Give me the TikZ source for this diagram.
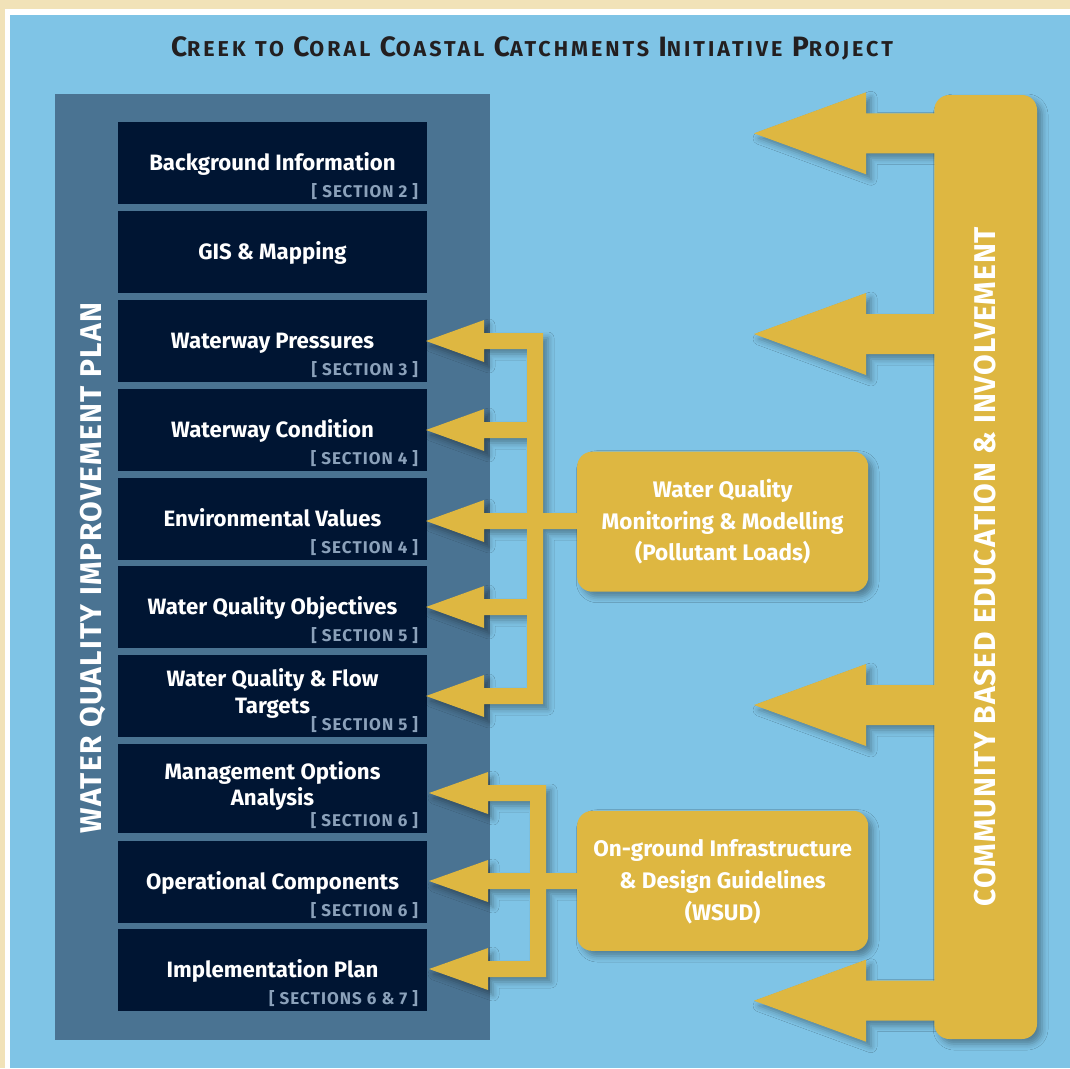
\documentclass[tikz,border=0pt]{standalone}
\usepackage{fontspec}
\setmainfont{Fira Sans}
\usetikzlibrary{shadows.blur}
\definecolor{beige}{HTML}{F1E2B8}
\definecolor{skyblue}{HTML}{7FC4E6}
\definecolor{slate}{HTML}{4A7392}
\definecolor{navy}{HTML}{001533}
\definecolor{gold}{HTML}{DEB741}
\definecolor{seclabel}{HTML}{8BA1BA}
\definecolor{titledark}{HTML}{231F20}
\newcommand{\fsc}[2]{{\fontsize{28}{30}\selectfont\bfseries\addfontfeatures{LetterSpace=9}#1}{\fontsize{21.5}{24}\selectfont\bfseries\addfontfeatures{LetterSpace=14}#2}}
\newcommand{\wsp}{\hspace{9.5pt}}
\tikzset{
  navybox/.style={fill=navy, inner sep=0pt, minimum width=309pt, minimum height=82pt},
  boxtitle/.style={text=white, font={\fontsize{22.2}{26}\selectfont\bfseries}, anchor=base, inner sep=0pt},
  seclbl/.style={text=seclabel, font={\fontsize{17}{20}\selectfont\bfseries\addfontfeatures{LetterSpace=6}}, anchor=base east, inner sep=0pt},
  goldbox/.style={fill=gold, rounded corners=15pt, inner sep=0pt, minimum width=291pt, minimum height=140pt},
  goldtext/.style={text=white, font={\fontsize{22.5}{28}\selectfont\bfseries}, anchor=base, inner sep=0pt},
  vtext/.style={text=white, font={\fontsize{30}{34}\selectfont\bfseries\addfontfeatures{LetterSpace=#1}}, anchor=base, rotate=90, inner sep=0pt},
  gshadow/.style={blur shadow={shadow xshift=5pt, shadow yshift=-5pt, shadow blur radius=6pt, shadow opacity=35}},
}
\begin{document}
\begin{tikzpicture}[x=1pt, y=-1pt]
\useasboundingbox (0,0) rectangle (1070,1068);
% frame and background
\fill[beige] (0,0) rectangle (1070,1068);
\fill[white] (5,9) rectangle (1070,1068);
\fill[skyblue] (10,14.5) rectangle (1070,1068);
% title
\node[anchor=base, inner sep=0pt, text=titledark, font={\fontsize{21.5}{24}\selectfont}] (title) at (532,56.7)
  {\fsc{C}{REEK}\wsp\fsc{}{TO}\wsp\fsc{C}{ORAL}\wsp\fsc{C}{OASTAL}\wsp\fsc{C}{ATCHMENTS}\wsp\fsc{I}{NITIATIVE}\wsp\fsc{P}{ROJECT}};
% left panel
\fill[slate] (55,94) rectangle (490,1040);
\node[vtext=4.2] (wqip) at (101,568) {WATER QUALITY IMPROVEMENT PLAN};
% navy boxes
\node[navybox] (b1) at (272.5,163) {};
\node[navybox] (b2) at (272.5,252) {};
\node[navybox] (b3) at (272.5,341) {};
\node[navybox] (b4) at (272.5,430) {};
\node[navybox] (b5) at (272.5,518.7) {};
\node[navybox] (b6) at (272.5,607) {};
\node[navybox] (b7) at (272.5,696) {};
\node[navybox, minimum height=88.7pt] (b8) at (272.5,788.4) {};
\node[navybox] (b9) at (272.5,882) {};
\node[navybox] (b10) at (272.5,970) {};
% box titles
\node[boxtitle] (t1) at ([yshift=-7.8pt]b1.center) {Background Information};
\node[boxtitle] (t2) at ([yshift=-7.8pt]b2.center) {GIS \& Mapping};
\node[boxtitle] (t3) at ([yshift=-7.8pt]b3.center) {Waterway Pressures};
\node[boxtitle] (t4) at ([yshift=-7.8pt]b4.center) {Waterway Condition};
\node[boxtitle] (t5) at ([yshift=-7.8pt]b5.center) {Environmental Values};
\node[boxtitle] (t6) at ([yshift=-7.8pt]b6.center) {Water Quality Objectives};
\node[boxtitle] (t7a) at ([yshift=9.3pt]b7.center) {Water Quality \& Flow};
\node[boxtitle] (t7b) at ([yshift=-17.3pt]b7.center) {Targets};
\node[boxtitle] (t8a) at ([yshift=9.1pt]b8.center) {Management Options};
\node[boxtitle] (t8b) at ([yshift=-17.3pt]b8.center) {Analysis};
\node[boxtitle] (t9) at ([yshift=-7.8pt]b9.center) {Operational Components};
\node[boxtitle] (t10) at ([yshift=-7.8pt]b10.center) {Implementation Plan};
% section labels
\node[seclbl] (s1) at ([xshift=-9pt,yshift=6.3pt]b1.south east) {[ SECTION 2 ]};
\node[seclbl] (s3) at ([xshift=-9pt,yshift=6.3pt]b3.south east) {[ SECTION 3 ]};
\node[seclbl] (s4) at ([xshift=-9pt,yshift=6.3pt]b4.south east) {[ SECTION 4 ]};
\node[seclbl] (s5) at ([xshift=-9pt,yshift=6.3pt]b5.south east) {[ SECTION 4 ]};
\node[seclbl] (s6) at ([xshift=-9pt,yshift=6.3pt]b6.south east) {[ SECTION 5 ]};
\node[seclbl] (s7) at ([xshift=-9pt,yshift=6.3pt]b7.south east) {[ SECTION 5 ]};
\node[seclbl] (s8) at ([xshift=-9pt,yshift=6.3pt]b8.south east) {[ SECTION 6 ]};
\node[seclbl] (s9) at ([xshift=-9pt,yshift=6.3pt]b9.south east) {[ SECTION 6 ]};
\node[seclbl] (s10) at ([xshift=-9pt,yshift=6.3pt]b10.south east) {[ SECTIONS 6 \& 7 ]};
% ---- gold shapes: shadows first ----
\def\upperconn{(426,341) -- (484,320) -- (484,333) -- (543,333) -- (543,513) -- (580,513) -- (580,529) -- (543,529) -- (543,704) -- (484,704) -- (484,717) -- (426,696) -- (484,675) -- (484,688) -- (527,688) -- (527,615) -- (484,615) -- (484,628) -- (426,607) -- (484,586) -- (484,599) -- (527,599) -- (527,529) -- (484,529) -- (484,542) -- (426,521) -- (484,500) -- (484,513) -- (527,513) -- (527,438) -- (484,438) -- (484,451) -- (426,430) -- (484,409) -- (484,422) -- (527,422) -- (527,349) -- (484,349) -- (484,362) -- cycle}
\def\lowerconn{(429,793) -- (488,772) -- (488,785) -- (546,785) -- (546,873) -- (580,873) -- (580,889) -- (546,889) -- (546,977) -- (488,977) -- (488,990) -- (429,969) -- (488,948) -- (488,961) -- (530,961) -- (530,889) -- (488,889) -- (488,902) -- (429,881) -- (488,860) -- (488,873) -- (530,873) -- (530,801) -- (488,801) -- (488,814) -- cycle}
\def\rarrow#1{(754,#1) -- (866,#1-41) -- (866,#1-20) -- (950,#1-20) -- (950,#1+20) -- (866,#1+20) -- (866,#1+41) -- cycle}
\path[gshadow] \upperconn;
\path[gshadow] \lowerconn;
\path[gshadow] \rarrow{133.3};
\path[gshadow] \rarrow{334};
\path[gshadow] \rarrow{705};
\path[gshadow] \rarrow{1000.7};
\path[gshadow, rounded corners=15pt] (934.3,95) rectangle (1037,1039);
\path[gshadow, rounded corners=15pt] (577.3,451.7) rectangle (868,591.7);
\path[gshadow, rounded corners=15pt] (577.3,810.7) rectangle (868,951);
% gold fills
\fill[gold] \upperconn;
\fill[gold] \lowerconn;
\fill[gold] \rarrow{133.3};
\fill[gold] \rarrow{334};
\fill[gold] \rarrow{705};
\fill[gold] \rarrow{1000.7};
\node[goldbox, minimum width=102.7pt, minimum height=944pt] (cbar) at (985.65,567) {};
\node[goldbox] (wqm) at (722.65,521.7) {};
\node[goldbox] (wsud) at (722.65,880.85) {};
% gold texts
\node[goldtext] (g1a) at ([yshift=24.3pt]wqm.center) {Water Quality};
\node[goldtext] (g1b) at ([yshift=-7.6pt]wqm.center) {Monitoring \& Modelling};
\node[goldtext] (g1c) at ([yshift=-39pt]wqm.center) {(Pollutant Loads)};
\node[goldtext] (g2a) at ([yshift=24.2pt]wsud.center) {On-ground Infrastructure};
\node[goldtext] (g2b) at ([yshift=-7.3pt]wsud.center) {\& Design Guidelines};
\node[goldtext] (g2c) at ([yshift=-39.2pt]wsud.center) {(WSUD)};
\node[vtext=3.1] (cbei) at (995,566.5) {COMMUNITY BASED EDUCATION \& INVOLVEMENT};
\end{tikzpicture}
\end{document}
